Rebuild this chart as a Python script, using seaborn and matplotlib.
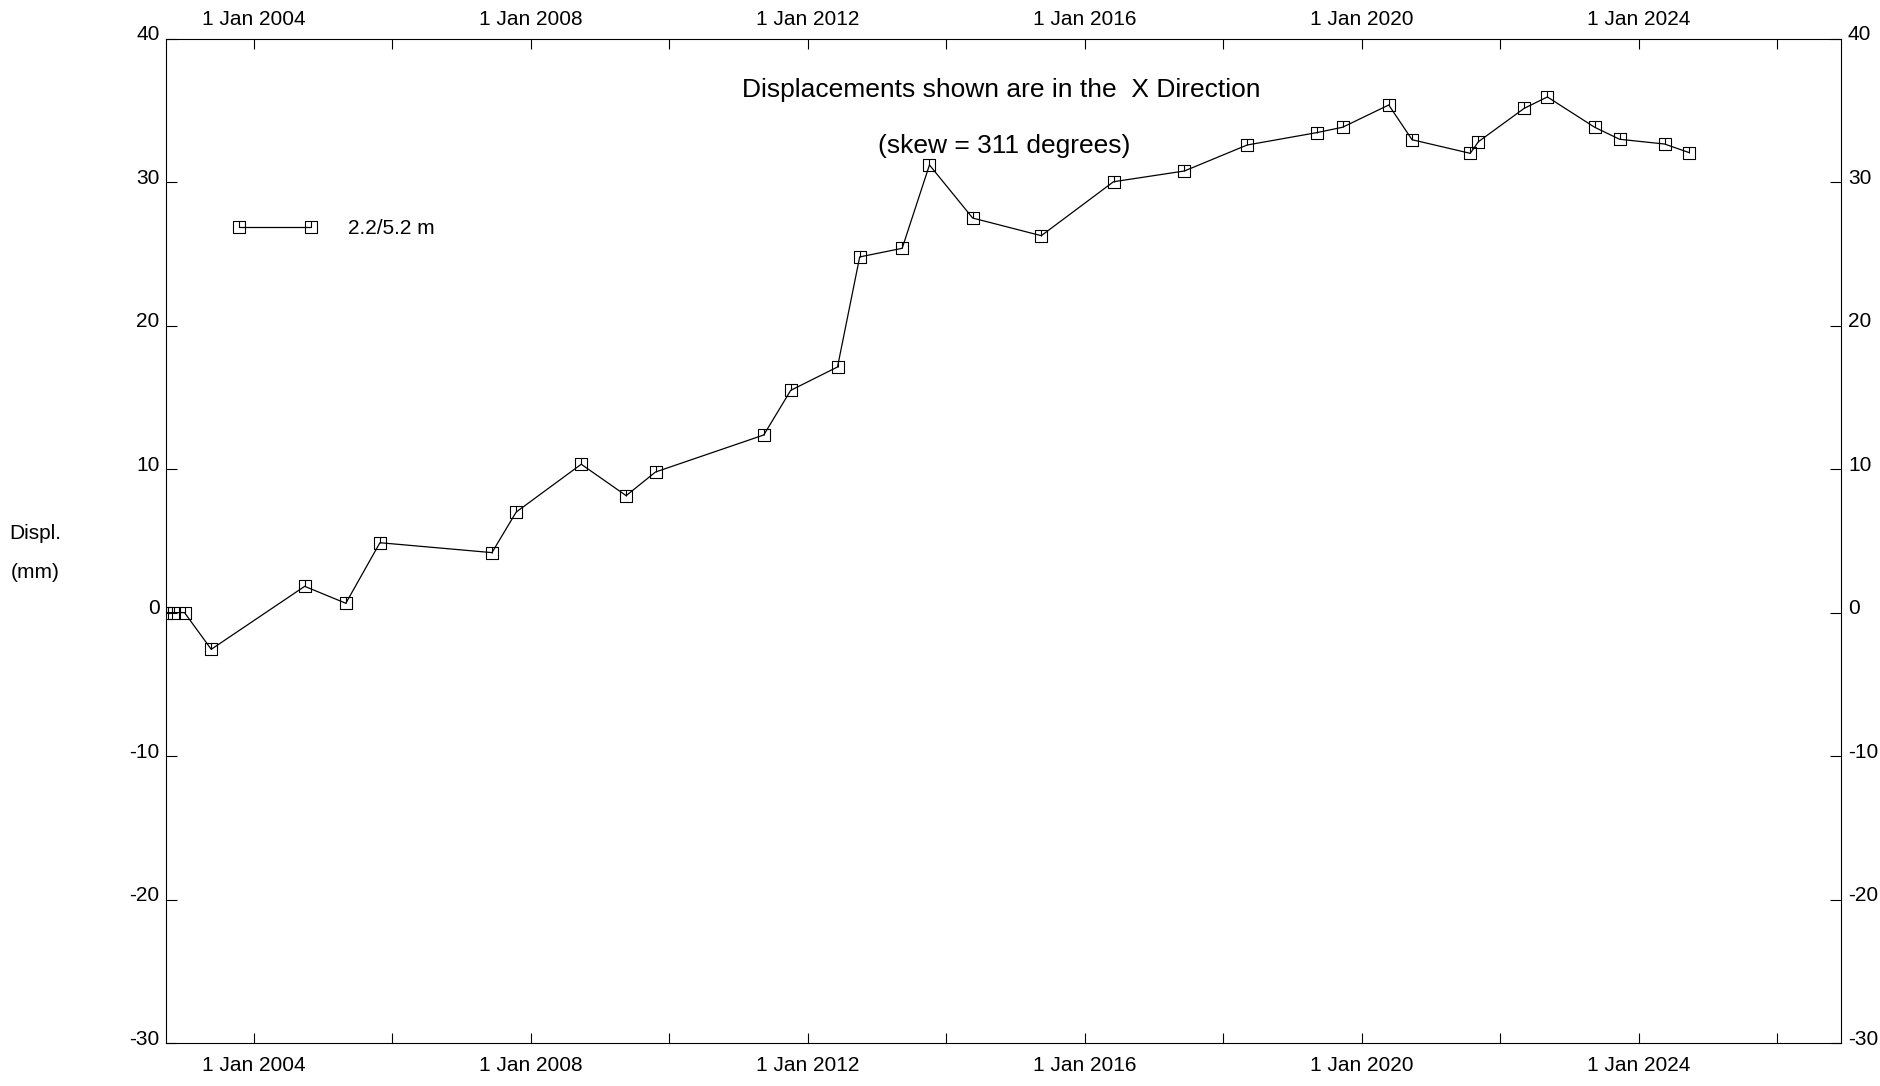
import numpy as np
import pandas as pd
import matplotlib
matplotlib.use("Agg")
import matplotlib.pyplot as plt
import matplotlib.dates as mdates
from matplotlib.path import Path
from matplotlib.ticker import FixedLocator, FuncFormatter
from matplotlib.transforms import ScaledTranslation
import seaborn as sns

# Survey readings (inclinometer displacement, X direction)
survey_dates = [
    "2002-09-27", "2002-11-08", "2002-12-31", "2003-05-21", "2004-09-25",
    "2005-04-30", "2005-10-27", "2007-06-10", "2007-10-16", "2008-09-23",
    "2009-05-18", "2009-10-20", "2011-05-14", "2011-10-03", "2012-06-06",
    "2012-10-01", "2013-05-13", "2013-10-04", "2014-05-20", "2015-05-17",
    "2016-06-01", "2017-06-10", "2018-05-07", "2019-05-08", "2019-09-23",
    "2020-05-23", "2020-09-23", "2021-07-27", "2021-09-08", "2022-05-08",
    "2022-09-07", "2023-05-14", "2023-09-23", "2024-05-17", "2024-09-24",
]
displacement_mm = [
    0.0, 0.0, 0.0, -2.56, 1.83,
    0.65, 4.87, 4.18, 7.01, 10.34,
    8.15, 9.80, 12.38, 15.49, 17.12,
    24.79, 25.39, 31.20, 27.50, 26.27,
    30.03, 30.78, 32.59, 33.45, 33.83,
    35.38, 32.96, 32.01, 32.82, 35.15,
    35.94, 33.83, 32.99, 32.66, 32.06,
]
series_label = "2.2/5.2 m"
y_ticks = [-30, -20, -10, 0, 10, 20, 30, 40]
title_lines = ["Displacements shown are in the  X Direction", "(skew = 311 degrees)"]
x_end = "2026-12-04"

df = pd.DataFrame({"date": pd.to_datetime(survey_dates), "disp": displacement_mm})

sns.set_style("white")
plt.rcParams["font.family"] = ["Liberation Sans", "DejaVu Sans"]
plt.rcParams["axes.unicode_minus"] = False
plt.rcParams["axes.edgecolor"] = "black"
plt.rcParams["axes.linewidth"] = 0.8
plt.rcParams["text.color"] = "black"
plt.rcParams["xtick.color"] = "black"
plt.rcParams["ytick.color"] = "black"
plt.rcParams["xtick.labelcolor"] = "black"
plt.rcParams["ytick.labelcolor"] = "black"

fig = plt.figure(figsize=(18.8, 10.86), dpi=100)
ax = fig.add_axes([0.08856, 0.03959, 0.89070, 0.92477])

# open square marker with a short stroke from the top edge to the centre
marker_path = Path(
    [(-1, -1), (1, -1), (1, 1), (-1, 1), (-1, -1), (0, 1), (0, 0)],
    [Path.MOVETO, Path.LINETO, Path.LINETO, Path.LINETO, Path.CLOSEPOLY,
     Path.MOVETO, Path.LINETO],
)

sns.lineplot(
    data=df, x="date", y="disp", ax=ax, sort=False,
    color="black", linewidth=0.9, label=series_label,
    marker=marker_path, markersize=8.5, markerfacecolor="none",
    markeredgecolor="black", markeredgewidth=0.8,
)

ax.set_xlim(df["date"].iloc[0], pd.Timestamp(x_end))
ax.set_ylim(y_ticks[0], y_ticks[-1])
ax.set_xlabel("")
ax.set_ylabel("")

# axes: dates every 4 years labelled, unlabelled ticks in between
ax.xaxis.set_major_locator(mdates.YearLocator(4, month=1, day=1))
ax.xaxis.set_minor_locator(mdates.YearLocator(2, month=1, day=1))
ax.xaxis.set_major_formatter(
    FuncFormatter(lambda v, pos: (lambda d: f"{d.day} {d:%b %Y}")(mdates.num2date(v)))
)
ax.yaxis.set_major_locator(FixedLocator(y_ticks))

ax.tick_params(axis="x", which="both", direction="in", length=7.5, width=0.8,
               top=True, bottom=True, labeltop=True, labelbottom=True,
               labelsize=15, pad=7, color="black", labelcolor="black")
ax.tick_params(axis="y", which="both", direction="in", length=8, width=0.8,
               left=True, right=True, labelleft=True, labelright=True,
               labelsize=15, pad=5, color="black", labelcolor="black")
for spine in ax.spines.values():
    spine.set_visible(True)
    spine.set_color("black")
    spine.set_linewidth(0.8)

# y tick labels sit slightly above their tick marks
lift = ScaledTranslation(0, 0.06, fig.dpi_scale_trans)
for tick in ax.yaxis.get_major_ticks():
    tick.label1.set_transform(tick.label1.get_transform() + lift)
    tick.label2.set_transform(tick.label2.get_transform() + lift)
# bottom date labels sit a little lower
drop = ScaledTranslation(0, -0.035, fig.dpi_scale_trans)
for tick in ax.xaxis.get_major_ticks():
    tick.label1.set_transform(tick.label1.get_transform() + drop)

# header text inside the plot
ax.text(0.4985, 0.9485, title_lines[0], transform=ax.transAxes,
        ha="center", va="center", fontsize=19, color="black")
ax.text(0.5, 0.8935, title_lines[1], transform=ax.transAxes,
        ha="center", va="center", fontsize=19, color="black")

# axis caption on the left
fig.text(35 / 1880, 1 - 533.6 / 1086, "Displ.", ha="center", va="center",
         fontsize=15, color="black")
fig.text(35 / 1880, 1 - 572 / 1086, "(mm)", ha="center", va="center",
         fontsize=15, color="black")

leg = ax.legend(loc="center left", bbox_to_anchor=(232.3 / 1880, 1 - 229 / 1086),
                bbox_transform=fig.transFigure, frameon=False, numpoints=2,
                handlelength=4.1, handletextpad=1.44, borderpad=0, borderaxespad=0,
                fontsize=15)
for t in leg.get_texts():
    t.set_color("black")

fig.savefig("out.png", dpi=100, facecolor="white")
